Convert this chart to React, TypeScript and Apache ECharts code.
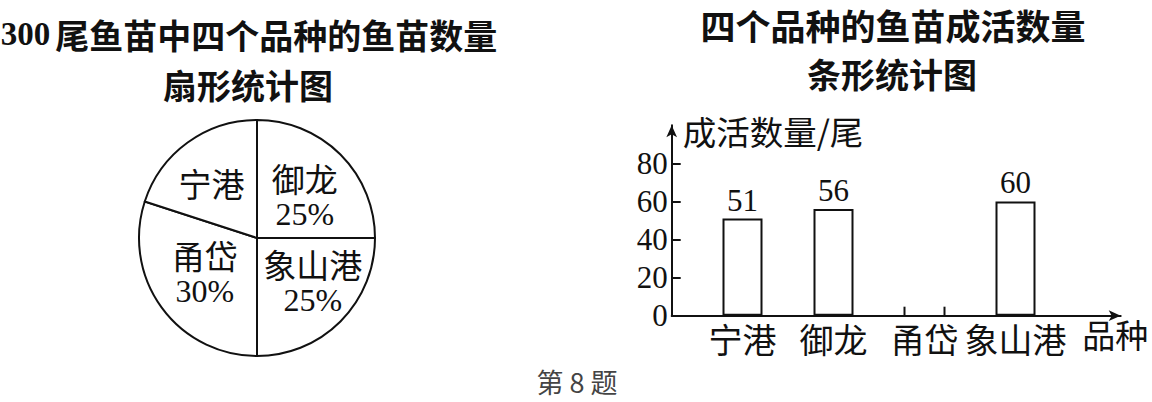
import React, { useEffect, useRef } from "react";
import * as echarts from "echarts";

// ---- data ----
const pieNames = ["御龙", "象山港", "甬岱", "宁港"];
const piePercents = [25, 25, 30, 20];
const pieShowPercent = [true, true, true, false];

const categories = ["宁港", "御龙", "甬岱", "象山港"];
const survived: (number | null)[] = [51, 56, null, 60];
const yTickValues = [0, 20, 40, 60, 80];

const pieTitle = "300 尾鱼苗中四个品种的鱼苗数量";
const pieSubtitle = "扇形统计图";
const barTitle = "四个品种的鱼苗成活数量";
const barSubtitle = "条形统计图";
const yName = "成活数量/尾";
const xName = "品种";
const caption = "第 8 题";

// ---- styles ----
const CJK = "'Noto Sans CJK SC', 'Noto Sans', sans-serif";
const SERIF = "'Liberation Serif', 'DejaVu Serif', serif";
const INK = "#111";
// small nudges of the pie labels (px), in the same order as pieNames
const pieLabelNudge = [
  [4, 1],
  [12, -1],
  [-2, -2],
  [-9, -5],
];

function nudgePadding([dx, dy]: number[]) {
  return [
    Math.max(0, 2 * dy),
    Math.max(0, -2 * dx),
    Math.max(0, -2 * dy),
    Math.max(0, 2 * dx),
  ];
}

export default function App() {
  const ref = useRef<HTMLDivElement>(null);

  useEffect(() => {
    if (!ref.current) return;
    const chart = echarts.init(ref.current, null, { renderer: "svg" });

    const BAR_W = 40;
    const missing = survived
      .map((v, i) => (v == null ? [i, 0] : null))
      .filter((d) => d !== null);

    const [t300, ...rest] = pieTitle.split(" ");

    const option: any = {
      animation: false,
      backgroundColor: "#fff",
      title: [
        {
          text: `{a|${t300}} {b|${rest.join(" ")}}`,
          left: 249,
          top: 17,
          textAlign: "center",
          padding: 0,
          textStyle: {
            rich: {
              a: { fontFamily: SERIF, fontWeight: "bold", fontSize: 33, color: INK },
              b: { fontFamily: CJK, fontWeight: "bold", fontSize: 34, color: INK },
            },
          },
        },
        {
          text: pieSubtitle,
          left: 248,
          top: 67,
          textAlign: "center",
          padding: 0,
          textStyle: { fontFamily: CJK, fontWeight: "bold", fontSize: 34, color: INK },
        },
        {
          text: barTitle,
          left: 893,
          top: 7,
          textAlign: "center",
          padding: 0,
          textStyle: { fontFamily: CJK, fontWeight: "bold", fontSize: 35, color: INK },
        },
        {
          text: barSubtitle,
          left: 892,
          top: 56,
          textAlign: "center",
          padding: 0,
          textStyle: { fontFamily: CJK, fontWeight: "bold", fontSize: 34, color: INK },
        },
        {
          text: caption,
          left: 577,
          top: 368,
          textAlign: "center",
          padding: 0,
          textStyle: { fontFamily: CJK, fontWeight: "normal", fontSize: 27, color: "#444" },
        },
      ],
      grid: [
        { left: 671.7, right: 31.3, top: 125.2, bottom: 86.3 },
        { left: 697, right: 91, top: 125.2, bottom: 86.3 },
      ],
      xAxis: [
        {
          gridIndex: 0,
          type: "value",
          min: 0,
          max: 1,
          axisLine: {
            show: true,
            lineStyle: { color: INK, width: 2 },
            symbol: ["none", "arrow"],
            symbolSize: [8, 12],
          },
          axisTick: { show: false },
          axisLabel: { show: false },
          splitLine: { show: false },
          name: xName,
          nameLocation: "end",
          nameGap: 27.6,
          nameTextStyle: {
            fontFamily: CJK,
            fontSize: 33,
            color: INK,
            align: "right",
            verticalAlign: "top",
            padding: [2, 0, 0, 0],
          },
        },
        {
          gridIndex: 1,
          type: "category",
          data: categories,
          boundaryGap: true,
          axisLine: { show: false },
          axisTick: { show: false },
          axisLabel: {
            interval: 0,
            margin: 6,
            fontFamily: CJK,
            fontSize: 34,
            color: INK,
          },
          splitLine: { show: false },
        },
      ],
      yAxis: [
        {
          gridIndex: 0,
          type: "value",
          min: 0,
          max: 100,
          axisLine: {
            show: true,
            lineStyle: { color: INK, width: 2 },
            symbol: ["none", "arrow"],
            symbolSize: [8, 12],
          },
          axisTick: {
            show: true,
            inside: true,
            length: 9,
            lineStyle: { color: INK, width: 2 },
            customValues: yTickValues,
          },
          axisLabel: {
            margin: 4,
            fontFamily: SERIF,
            fontSize: 31,
            color: INK,
            customValues: yTickValues,
          },
          splitLine: { show: false },
          name: yName,
          nameLocation: "end",
          nameGap: -4.8,
          nameTextStyle: {
            fontFamily: CJK,
            fontSize: 33.5,
            color: INK,
            align: "left",
            verticalAlign: "middle",
            padding: [0, 0, 0, 11],
          },
        },
        {
          gridIndex: 1,
          type: "value",
          min: 0,
          max: 100,
          show: false,
        },
      ],
      series: [
        {
          type: "pie",
          center: [257, 238],
          radius: 118,
          startAngle: 90,
          clockwise: true,
          silent: true,
          avoidLabelOverlap: false,
          itemStyle: { color: "#fff", borderColor: INK, borderWidth: 2 },
          labelLine: { show: false },
          emphasis: { disabled: true },
          label: {
            show: true,
            position: "inside",
            color: INK,
            rich: {
              n: { fontFamily: CJK, fontSize: 33, lineHeight: 38, color: INK },
              p: { fontFamily: SERIF, fontSize: 32, lineHeight: 34, color: INK },
            },
          },
          data: pieNames.map((name, i) => ({
            name,
            value: piePercents[i],
            label: {
              formatter: pieShowPercent[i] ? "{n|{b}}\n{p|{d}%}" : "{n|{b}}",
              padding: nudgePadding(pieLabelNudge[i]),
            },
          })),
        },
        {
          type: "bar",
          xAxisIndex: 1,
          yAxisIndex: 1,
          barWidth: BAR_W,
          silent: true,
          data: survived.map((v) => (v == null ? "-" : v)),
          itemStyle: { color: "#fff", borderColor: INK, borderWidth: 2 },
          label: {
            show: true,
            position: "top",
            distance: 3,
            fontFamily: SERIF,
            fontSize: 31,
            color: INK,
          },
        },
        {
          type: "custom",
          xAxisIndex: 1,
          yAxisIndex: 1,
          silent: true,
          data: missing,
          renderItem: (params: any, api: any) => {
            const p = api.coord([api.value(0), api.value(1)]);
            const half = BAR_W / 2;
            const h = 9;
            return {
              type: "group",
              children: [
                {
                  type: "line",
                  shape: { x1: p[0] - half, y1: p[1], x2: p[0] - half, y2: p[1] - h },
                  style: { stroke: INK, lineWidth: 2 },
                },
                {
                  type: "line",
                  shape: { x1: p[0] + half, y1: p[1], x2: p[0] + half, y2: p[1] - h },
                  style: { stroke: INK, lineWidth: 2 },
                },
              ],
            };
          },
        },
      ],
    };

    chart.setOption(option);
    return () => chart.dispose();
  }, []);

  return (
    <div
      ref={ref}
      style={{ position: "fixed", left: 0, top: 0, width: 1152, height: 402, background: "#fff" }}
    />
  );
}
